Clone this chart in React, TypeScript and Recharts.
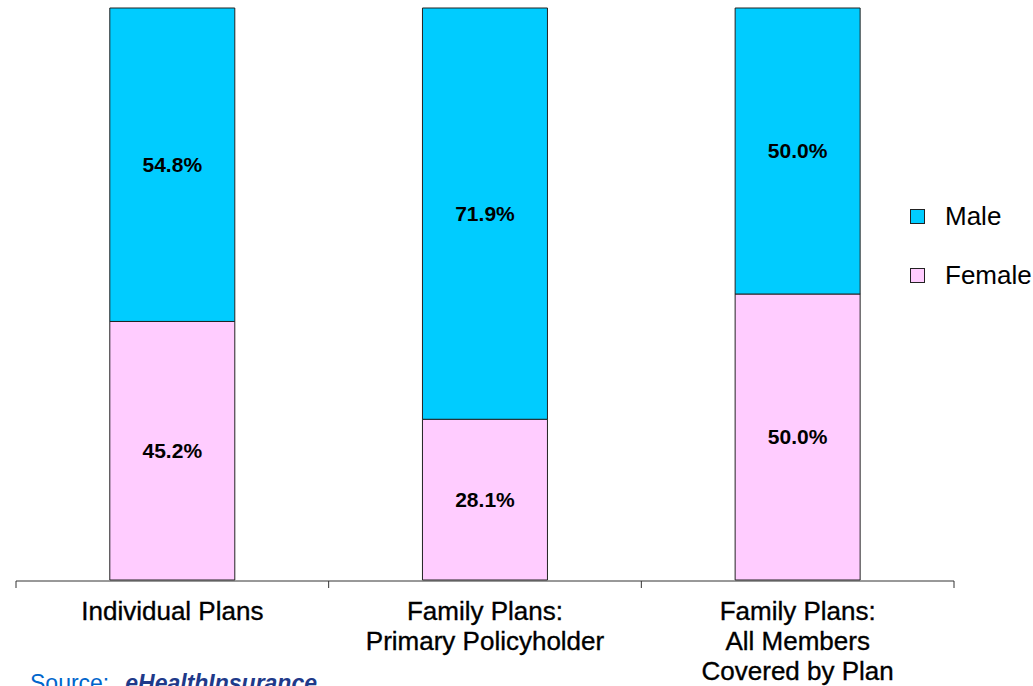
import React from "react";
import { BarChart, Bar, XAxis, YAxis, LabelList } from "recharts";

const categories = [
  "Individual Plans",
  "Family Plans:\nPrimary Policyholder",
  "Family Plans:\nAll Members\nCovered by Plan",
];
const maleValues = [54.8, 71.9, 50.0];
const femaleValues = [45.2, 28.1, 50.0];
const boundaryTicks = [0, 1, 2, 3];

const series = [
  { key: "Male", color: "#00CCFF" },
  { key: "Female", color: "#FFCCFF" },
];

const data = categories.map((name, i) => ({
  name,
  slot: i + 0.5,
  Male: maleValues[i],
  Female: femaleValues[i],
}));

const FONT = "'Liberation Sans', Arial, Helvetica, sans-serif";

const CategoryTick = (props: any) => {
  const { x, y, payload } = props;
  const lines = String(payload.value).split("\n");
  return (
    <text
      x={x}
      y={y + 40}
      textAnchor="middle"
      fontFamily={FONT}
      fontSize={26}
      fill="#000"
      stroke="#000"
      strokeWidth={0.35}
    >
      {lines.map((line, i) => (
        <tspan key={i} x={x} dy={i === 0 ? 0 : 30}>
          {line}
        </tspan>
      ))}
    </text>
  );
};

const NoLabel = () => <g />;

const pct = (v: any) => `${Number(v).toFixed(1)}%`;

export default function App() {
  return (
    <div
      style={{
        position: "absolute",
        left: 0,
        top: 0,
        width: 1033,
        height: 686,
        overflow: "hidden",
        background: "#fff",
      }}
    >
      <BarChart
        width={1033}
        height={686}
        data={data}
        margin={{ top: 8, right: 79, bottom: 104, left: 16 }}
        barCategoryGap="30%"
      >
        <YAxis hide domain={[0, 100]} />
        <XAxis
          dataKey="name"
          height={1}
          axisLine={false}
          tickLine={false}
          tickSize={0}
          tickMargin={0}
          interval={0}
          tick={<CategoryTick />}
        />
        <XAxis
          xAxisId="edges"
          dataKey="slot"
          type="number"
          domain={[0, 3]}
          ticks={boundaryTicks}
          interval={0}
          allowDataOverflow
          height={1}
          tick={<NoLabel />}
          tickSize={7}
          axisLine={{ stroke: "#333" }}
          tickLine={{ stroke: "#333" }}
        />
        <Bar dataKey="Female" stackId="a" fill="#FFCCFF" stroke="#222" strokeWidth={1} isAnimationActive={false}>
          <LabelList
            dataKey="Female"
            position="center"
            formatter={pct}
            fill="#000"
            fontSize={21}
            fontWeight="bold"
            fontFamily={FONT}
          />
        </Bar>
        <Bar dataKey="Male" stackId="a" fill="#00CCFF" stroke="#222" strokeWidth={1} isAnimationActive={false}>
          <LabelList
            dataKey="Male"
            position="center"
            formatter={pct}
            fill="#000"
            fontSize={21}
            fontWeight="bold"
            fontFamily={FONT}
          />
        </Bar>
      </BarChart>

      <div
        style={{
          position: "absolute",
          left: 910,
          top: 201,
          fontFamily: FONT,
          fontSize: 26,
          color: "#000",
        }}
      >
        {series.map((s) => (
          <div key={s.key} style={{ display: "flex", alignItems: "center", height: 30, marginBottom: 29 }}>
            <span
              style={{
                display: "inline-block",
                width: 13,
                height: 13,
                background: s.color,
                border: "1px solid #222",
                marginRight: 20,
              }}
            />
            <span>{s.key}</span>
          </div>
        ))}
      </div>

      <div
        style={{
          position: "absolute",
          left: 30,
          top: 672,
          fontFamily: FONT,
          fontSize: 23,
          lineHeight: 1,
          whiteSpace: "nowrap",
        }}
      >
        <span style={{ color: "#0066CC" }}>Source:</span>
        <span style={{ color: "#1F3A8A", fontWeight: "bold", fontStyle: "italic", marginLeft: 16 }}>
          eHealthInsurance
        </span>
      </div>
    </div>
  );
}
